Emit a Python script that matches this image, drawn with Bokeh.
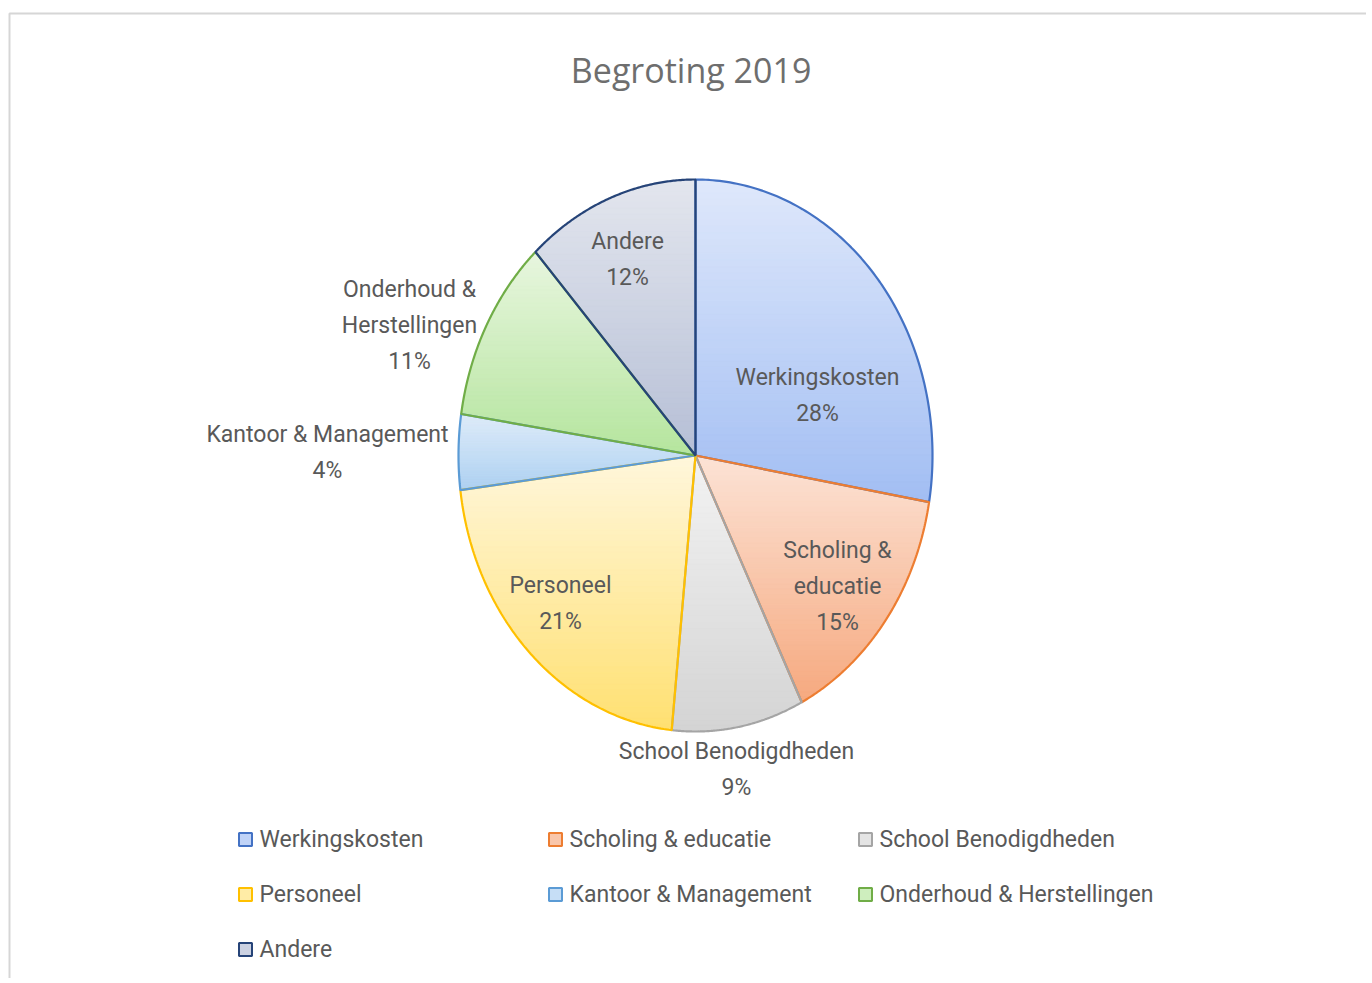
import numpy as np
from bokeh.plotting import figure
from bokeh.models import Range1d
from bokeh.core.properties import value
from bokeh.embed import file_html
from bokeh.resources import INLINE

# ---------------- data ----------------
categories = ["Werkingskosten", "Scholing & educatie", "School Benodigdheden",
              "Personeel", "Kantoor & Management", "Onderhoud & Herstellingen", "Andere"]
values = [27.7, 14.9, 9.0, 21.4, 4.4, 10.8, 11.8]
label_lines = [["Werkingskosten"], ["Scholing &", "educatie"], ["School Benodigdheden"],
               ["Personeel"], ["Kantoor & Management"], ["Onderhoud &", "Herstellingen"], ["Andere"]]
title_text = "Begroting  2019"

# ---------------- styles / layout ----------------
edge_colors = ["#4472c4", "#ed7d31", "#a5a5a5", "#ffc000", "#5b9bd5", "#70ad47", "#264478"]
top_colors = ["#dfe8fb", "#fce3d6", "#f3f3f3", "#fff7dc", "#deecf9", "#e8f6df", "#e3e6ee"]
bottom_colors = ["#a2bef3", "#f6a97f", "#d4d4d4", "#ffe071", "#afd1f2", "#b5e59e", "#b6bfd6"]
label_pos = [(817, 395), (837, 586), (736, 769), (560, 603), (327, 452), (409, 325), (627, 259)]
LINE_H = 36
TEXT_COL = "#595959"
FONT = "Roboto"
FONT_SIZE = "23px"
CX, CY, RX, RY = 695, 455, 237, 276

W, H = 1366, 978
p = figure(width=W, height=H, x_range=Range1d(0, W), y_range=Range1d(H, 0),
           output_backend="svg", toolbar_location=None, min_border=0,
           x_axis_location=None, y_axis_location=None)
p.xgrid.visible = False
p.ygrid.visible = False
p.outline_line_color = None
p.background_fill_color = "white"
p.border_fill_color = "white"

# chart border (Excel frame)
p.line([9, 9, 1400], [1000, 13, 13], line_color="#d6d6d6", line_width=2)


def hex2rgb(h):
    h = h.lstrip("#")
    return np.array([int(h[i:i + 2], 16) for i in (0, 2, 4)], dtype=float)


def rgb2hex(c):
    c = np.clip(np.round(c), 0, 255).astype(int)
    return "#%02x%02x%02x" % tuple(c)


def clip(poly, y0, keep_above):
    out = []
    n = len(poly)
    for i in range(n):
        a = poly[i]
        b = poly[(i + 1) % n]
        ina = a[1] >= y0 if keep_above else a[1] <= y0
        inb = b[1] >= y0 if keep_above else b[1] <= y0
        if ina:
            out.append(a)
        if ina != inb:
            t = (y0 - a[1]) / (b[1] - a[1])
            out.append((a[0] + t * (b[0] - a[0]), y0))
    return out


vals = np.array(values, dtype=float)
frac = vals / vals.sum()
cum = np.concatenate([[0.0], np.cumsum(frac)]) * 2 * np.pi

band_xs, band_ys, band_cols = [], [], []
slice_xs, slice_ys = [], []
for i in range(len(vals)):
    t = np.linspace(cum[i], cum[i + 1], 120)
    px = np.concatenate([[CX], CX + RX * np.sin(t)])
    py = np.concatenate([[CY], CY - RY * np.cos(t)])
    slice_xs.append(list(px))
    slice_ys.append(list(py))
    poly = list(zip(px, py))
    ymin, ymax = py.min(), py.max()
    nb = 48
    hgt = (ymax - ymin) / nb
    c0, c1 = hex2rgb(top_colors[i]), hex2rgb(bottom_colors[i])
    for k in range(nb):
        y0 = ymin + k * hgt - 0.3
        y1 = ymin + (k + 1) * hgt + 0.3
        q = clip(poly, y0, True)
        if len(q) < 3:
            continue
        q = clip(q, y1, False)
        if len(q) < 3:
            continue
        f = (k + 0.5) / nb
        col = rgb2hex(c0 + (c1 - c0) * f)
        band_xs.append([a[0] for a in q])
        band_ys.append([a[1] for a in q])
        band_cols.append(col)

p.patches(band_xs, band_ys, fill_color=band_cols, line_color=band_cols, line_width=0.6)
p.patches(slice_xs, slice_ys, fill_color=None, line_color=edge_colors, line_width=2.2)

# data labels
tx, ty, tt = [], [], []
for i, lines in enumerate(label_lines):
    pct = "%d%%" % int(round(frac[i] * 100))
    all_lines = lines + [pct]
    lx, ly = label_pos[i]
    n = len(all_lines)
    for j, s in enumerate(all_lines):
        tx.append(lx)
        ty.append(ly + (j - (n - 1) / 2) * LINE_H)
        tt.append(s)
p.text(tx, ty, text=tt, text_align="center", text_baseline="middle",
       text_font=value(FONT), text_font_size=FONT_SIZE, text_color=TEXT_COL)

# title
p.text([695], [69], text=[title_text], text_align="center", text_baseline="middle",
       text_font=value("Open Sans"), text_font_size="34px", text_color="#6e6e6e")

# legend
col_x = [238, 548, 858]
row_y = [839, 894, 949]
lgx, lgy, lgfill, lgline, ltx, lty, ltt = [], [], [], [], [], [], []
for i, cat in enumerate(categories):
    r, c = divmod(i, 3)
    x0, y0 = col_x[c], row_y[r]
    lgx.append(x0 + 7)
    lgy.append(y0)
    lgfill.append(rgb2hex((hex2rgb(top_colors[i]) + hex2rgb(bottom_colors[i])) / 2))
    lgline.append(edge_colors[i])
    ltx.append(x0 + 21)
    lty.append(y0)
    ltt.append(cat)
p.rect(lgx, lgy, width=13, height=13, fill_color=lgfill, line_color=lgline, line_width=2)
p.text(ltx, lty, text=ltt, text_align="left", text_baseline="middle",
       text_font=value(FONT), text_font_size=FONT_SIZE, text_color=TEXT_COL)

open("out.html", "w").write(file_html(p, INLINE, "Begroting 2019"))
